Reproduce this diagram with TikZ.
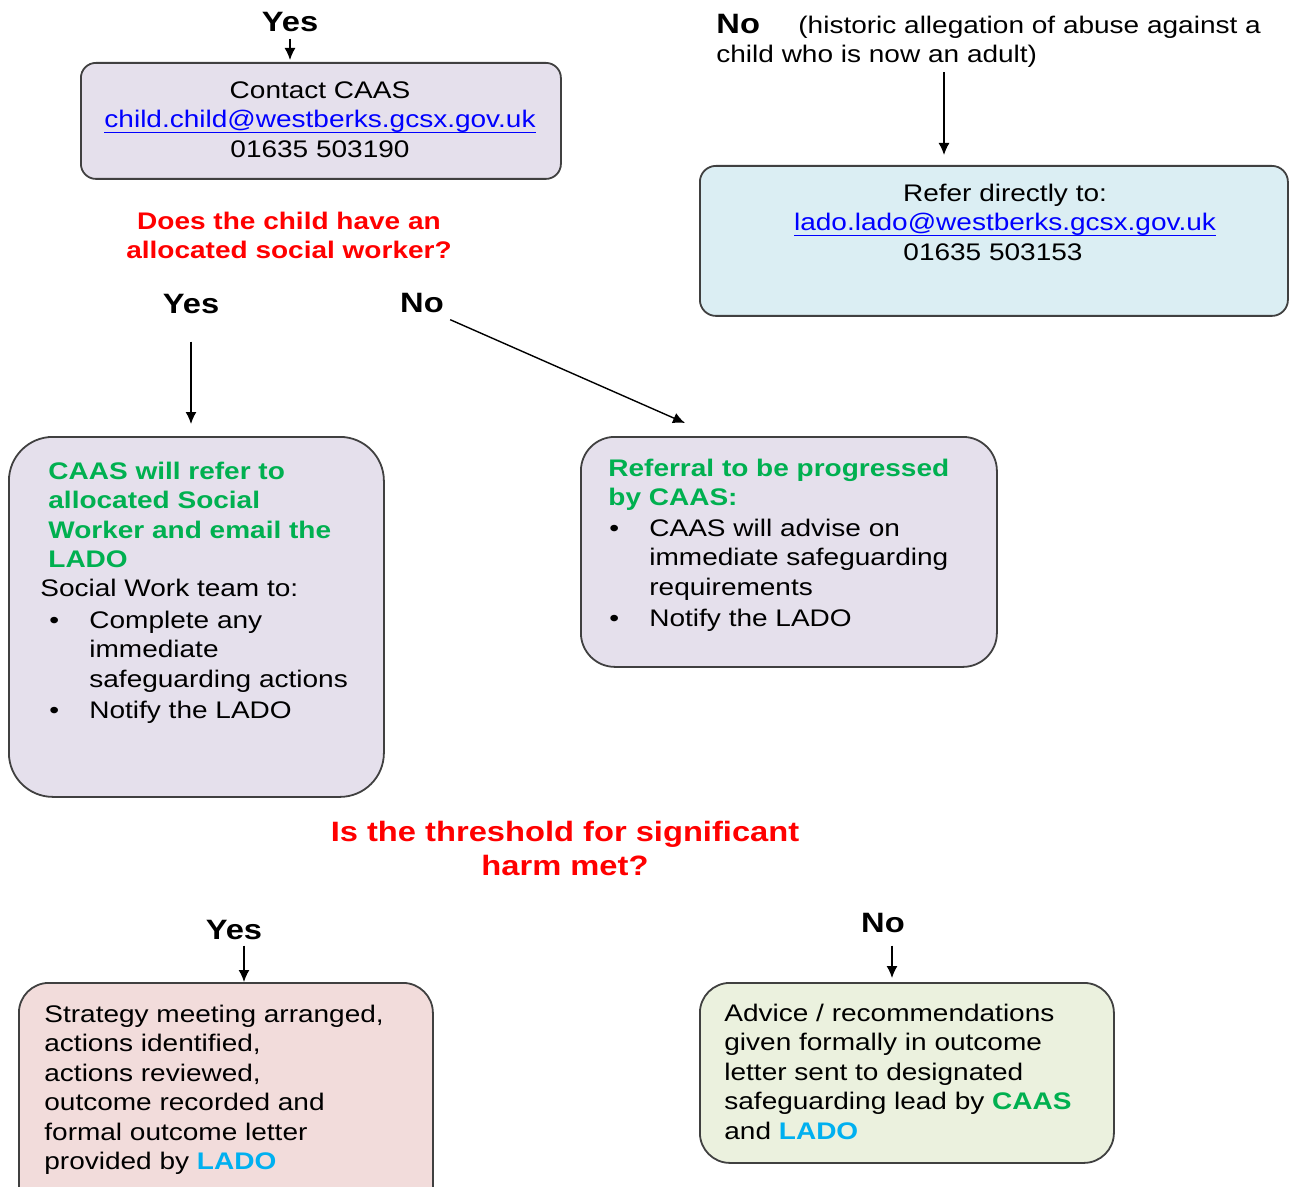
\documentclass[tikz,border=0pt]{standalone}
\usepackage{fontspec}
\setmainfont{Liberation Sans}[FakeStretch=1.167]
\usetikzlibrary{arrows.meta}
\definecolor{lav}{HTML}{E5E0EC}
\definecolor{lblue}{HTML}{DBEEF3}
\definecolor{lpink}{HTML}{F2DCDB}
\definecolor{lgreen}{HTML}{EBF1DE}
\definecolor{grn}{HTML}{00B050}
\definecolor{ladoblue}{HTML}{00B0F0}
\definecolor{linkblue}{HTML}{0000FF}
\definecolor{qred}{HTML}{FF0000}
\newcommand\txtf{\fontsize{12}{14.7}\selectfont}
\newcommand\bigf{\fontsize{14}{17}\selectfont\bfseries}
\newcommand\tp{\rule{0pt}{10pt}}
\newcommand\tpb{\rule{0pt}{12pt}}
\newcommand\lnk[1]{\textcolor{linkblue}{\setbox0\hbox{#1}\rlap{\rule[-2.6pt]{\wd0}{0.6pt}}\box0}}
\newcommand\bul{\makebox[20pt][l]{•}}
\newcommand\ind{\hspace*{20pt}}
\begin{document}
\begin{tikzpicture}[x=0.5pt,y=-0.5pt,
  box/.style={draw=black!75, line width=0.9pt, rounded corners=#1, anchor=north west, inner sep=0pt},
  txt/.style={anchor=north west, inner sep=0pt, align=left, font=\txtf},
  ctxt/.style={anchor=north, inner sep=0pt, align=center, font=\txtf},
  lbl/.style={anchor=base, inner sep=3pt, font=\bigf},
  arr/.style={-{Latex[length=6pt,width=5.5pt]}, line width=0.7pt}]
\useasboundingbox (0,0) rectangle (1289,1187);

% boxes
\node[box=7.5pt, fill=lav, minimum width=240pt, minimum height=58pt] (caas) at (80,62) {};
\node[box=8pt, fill=lblue, minimum width=294pt, minimum height=75pt] (lado) at (699,165) {};
\node[box=22pt, fill=lav, minimum width=187.5pt, minimum height=180pt] (left) at (8,436) {};
\node[box=17pt, fill=lav, minimum width=208pt, minimum height=115pt] (mid) at (580,436) {};
\node[box=15pt, fill=lpink, minimum width=207pt, minimum height=118pt] (bl) at (18,982) {};
\node[box=15pt, fill=lgreen, minimum width=207pt, minimum height=90pt] (br) at (699,982) {};

% labels
\node[lbl] (yes1) at (290,32) {Yes};
\node[txt] (hist) at (716,9) {\makebox[41pt][l]{\bigf\tpb No}(historic allegation of abuse against a\\child who is now an adult)};
\node[lbl] (yes2) at (191,314) {Yes};
\node[lbl] (no2) at (422,313) {No};
\node[lbl] (yes3) at (234,939) {Yes};
\node[lbl] (no3) at (883,932) {No};

% questions
\node[ctxt, font=\txtf\bfseries, text=qred] (q1) at (289,209) {\tp Does the child have an\\allocated social worker?};
\node[ctxt, font=\bigf, text=qred] (q2) at (565,817) {\tpb Is the threshold for significant\\harm met?};

% box texts
\node[ctxt] (caast) at (320,78) {\tp Contact CAAS\\\lnk{child.child@westberks.gcsx.gov.uk}\\01635 503190};
\node[ctxt] (ladot) at (1005,181) {\tp Refer directly to:\\\lnk{lado.lado@westberks.gcsx.gov.uk}\\01635 503153\hspace*{12pt}};

\node[txt, font=\txtf\bfseries, text=grn] (leftg) at (48,459) {\tp CAAS will refer to\\allocated Social\\Worker and email the\\LADO};
\node[txt] (lefts) at (40,576) {\tp Social Work team to:};
\node[txt] (leftl) at (49,608) {\tp\bul Complete any\\\ind immediate\\\ind safeguarding actions\\[1pt]\bul Notify the LADO};

\node[txt, font=\txtf\bfseries, text=grn] (midg) at (608,456) {\tp Referral to be progressed\\by CAAS:};
\node[txt] (midl) at (609,516) {\tp\bul CAAS will advise on\\\ind immediate safeguarding\\\ind requirements\\[1pt]\bul Notify the LADO};

\node[txt] (blt) at (44,1002) {\tp Strategy meeting arranged,\\actions identified,\\actions reviewed,\\outcome recorded and\\formal outcome letter\\provided by \textcolor{ladoblue}{\bfseries LADO}};
\node[txt] (brt) at (724,1001) {\tp Advice / recommendations\\given formally in outcome\\letter sent to designated\\safeguarding lead by \textcolor{grn}{\bfseries CAAS}\\and \textcolor{ladoblue}{\bfseries LADO}};

% connectors
\coordinate (nx) at (944,0);
\coordinate (mtip) at (685,423);
\draw[arr, shorten >=1pt] (yes1.south) -- (yes1.south |- caas.north);
\draw[arr, shorten <=2pt, shorten >=5pt] (hist.south -| nx) -- (nx |- lado.north);
\draw[arr, shorten <=10.5pt, shorten >=6pt] (yes2.south) -- (yes2.south |- left.north);
\draw[arr] (no2.south east) -- (mtip);
\draw[arr] ([xshift=5pt]yes3.south) -- ([xshift=5pt]yes3.south |- bl.north);
\draw[arr, shorten <=3.5pt, shorten >=2pt] ([xshift=4.5pt]no3.south) -- ([xshift=4.5pt]no3.south |- br.north);
\end{tikzpicture}
\end{document}
